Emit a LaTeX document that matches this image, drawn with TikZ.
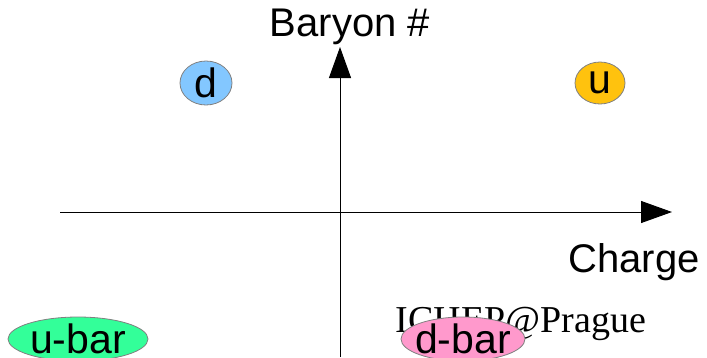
\documentclass[tikz,border=0pt]{standalone}
\usepackage{fontspec}
\setmainfont{Liberation Sans}
\newfontfamily\timesf{Liberation Serif}
\usetikzlibrary{shapes.geometric,arrows.meta}
\definecolor{dblue}{HTML}{83C7FF}
\definecolor{ugold}{HTML}{FFC20E}
\definecolor{ubgreen}{HTML}{33FF99}
\definecolor{dbpink}{HTML}{FF99CC}
\tikzset{
  quark/.style={ellipse, draw=gray, line width=0.8pt, inner xsep=-20pt, inner ysep=-6pt, font=\fontsize{41}{41}\selectfont},
  axis/.style={line width=1pt, -{Triangle[length=31pt,width=22pt]}},
  lbl/.style={inner sep=0pt, font=\fontsize{40}{40}\selectfont}
}
\begin{document}
\begin{tikzpicture}[x=1pt,y=-1pt]
\useasboundingbox (0,0) rectangle (707,357);
\coordinate (vb) at (340,357);
\coordinate (vt) at (340,47);
\coordinate (hl) at (60,212);
\coordinate (hr) at (672,212);
\draw[axis] (hl) -- (hr);
\draw[axis] (vb) -- (vt);
\node[lbl] (baryon) at (350,27) {Baryon \#};
\node[lbl] (charge) at (634,262) {Charge};
\node[inner sep=0pt, font=\timesf\fontsize{38}{38}\selectfont] (ichep) at (521,324) {ICHEP@Prague};
\node[quark, fill=dblue, minimum width=52pt, minimum height=44pt] (d) at (206,83) {d};
\node[quark, fill=ugold, minimum width=50pt, minimum height=42pt] (u) at (600,83) {u};
\node[quark, fill=ubgreen, minimum width=140pt, minimum height=44pt] (ubar) at (78,339) {u-bar};
\node[quark, fill=dbpink, minimum width=124pt, minimum height=44pt] (dbar) at (463,339) {d-bar};
\end{tikzpicture}
\end{document}
